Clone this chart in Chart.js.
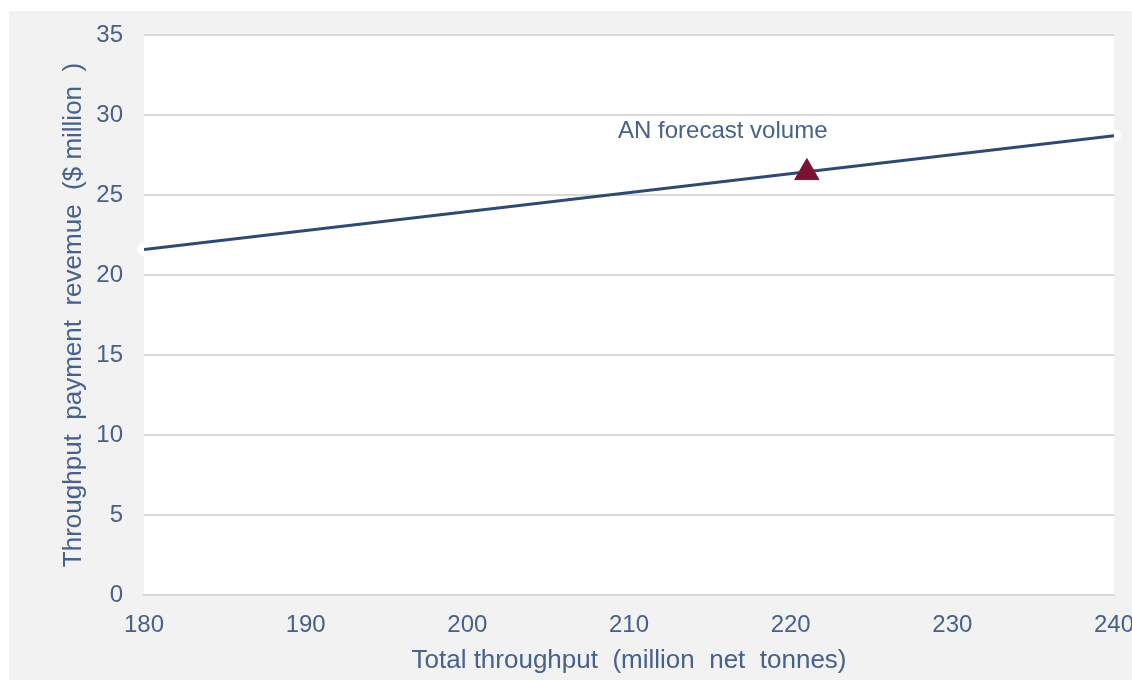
<!DOCTYPE html>
<html>
<head>
<meta charset="utf-8">
<script src="https://cdn.jsdelivr.net/npm/chart.js@4/dist/chart.umd.min.js"></script>
<style>
  html, body { margin: 0; padding: 0; background: #ffffff; }
  #wrap { position: absolute; left: 9px; top: 11px; width: 1123px; height: 669px; background: #f2f2f2; }
  canvas { display: block; }
</style>
</head>
<body>
<div id="wrap"><canvas id="c" width="1123" height="669"></canvas></div>
<script>
// ---- data ----
const throughput = [180, 240];                 // million net tonnes
const revenue = [21.6, 28.7];                  // $ million
const forecastThroughput = [221];
const forecastRevenue = [26.4];
const xTicks = [180, 190, 200, 210, 220, 230, 240];
const yTicks = [0, 5, 10, 15, 20, 25, 30, 35];
const annotationTexts = ['AN forecast volume'];
const annotationX = [215.8];
const annotationY = [29.0];

const TEXT = '#46618a';
const FONT = "'Liberation Sans', Arial, sans-serif";

const plotBg = {
  id: 'plotBg',
  beforeDraw(chart) {
    const {ctx, chartArea: a} = chart;
    ctx.save();
    ctx.fillStyle = '#ffffff';
    ctx.fillRect(a.left, a.top, a.right - a.left, a.bottom - a.top);
    ctx.restore();
  }
};

const labels = {
  id: 'labels',
  afterDatasetsDraw(chart) {
    const {ctx, scales} = chart;
    ctx.save();
    ctx.fillStyle = TEXT;
    ctx.font = '24px ' + FONT;
    ctx.textAlign = 'center';
    ctx.textBaseline = 'middle';
    annotationTexts.forEach((t, i) => {
      ctx.fillText(t, scales.x.getPixelForValue(annotationX[i]), scales.y.getPixelForValue(annotationY[i]));
    });
    ctx.restore();
  }
};

new Chart(document.getElementById('c'), {
  type: 'scatter',
  data: {
    datasets: [
      {
        label: 'Forecast',
        data: forecastThroughput.map((x, i) => ({x, y: forecastRevenue[i]})),
        pointStyle: 'triangle',
        pointRadius: 14,
        pointBackgroundColor: '#7a1232',
        pointBorderColor: '#7a1232',
        pointBorderWidth: 1,
        order: 1
      },
      {
        label: 'Revenue',
        data: throughput.map((x, i) => ({x, y: revenue[i]})),
        showLine: true,
        borderColor: '#2e4a72',
        borderWidth: 3,
        pointRadius: 0,
        order: 2
      },
      {
        label: 'ends',
        data: throughput.map((x, i) => ({x, y: revenue[i]})),
        pointRadius: 7,
        pointBackgroundColor: '#ffffff',
        pointBorderWidth: 0,
        clip: false,
        order: 3
      }
    ]
  },
  options: {
    responsive: false,
    animation: false,
    events: [],
    layout: { padding: { left: 0, right: 18, top: 24, bottom: 0 } },
    plugins: { legend: { display: false }, tooltip: { enabled: false } },
    scales: {
      x: {
        type: 'linear',
        min: 180, max: 240,
        afterBuildTicks(s) { s.ticks = xTicks.map(v => ({value: v})); },
        afterFit(s) { s.height = 85; s.paddingLeft = 0; s.paddingRight = 0; },
        grid: { display: false, drawTicks: false },
        border: { display: true, color: '#d9d9d9', width: 2 },
        ticks: { color: TEXT, font: { family: FONT, size: 24 }, padding: 16, maxRotation: 0 },
        title: { display: true, text: 'Total throughput  (million  net  tonnes)', color: TEXT,
                 font: { family: FONT, size: 26 }, padding: { top: 0, bottom: 4 } }
      },
      y: {
        type: 'linear',
        min: 0, max: 35,
        afterBuildTicks(s) { s.ticks = yTicks.map(v => ({value: v})); },
        afterFit(s) { s.width = 135; s.paddingTop = 0; s.paddingBottom = 0; },
        grid: { color: '#d9d9d9', lineWidth: 2, drawTicks: false },
        border: { display: false },
        ticks: { color: TEXT, font: { family: FONT, size: 24 }, padding: 21 },
        title: { display: true, text: 'Throughput  payment  revemue  ($ million  )', color: TEXT,
                 font: { family: FONT, size: 26 }, padding: { top: 49, bottom: 0 } }
      }
    }
  },
  plugins: [plotBg, labels]
});
</script>
</body>
</html>
